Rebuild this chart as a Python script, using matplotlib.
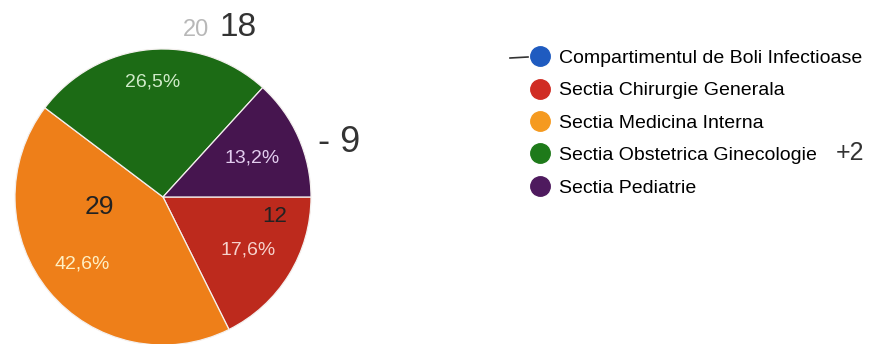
import matplotlib.pyplot as plt
import numpy as np
from matplotlib.lines import Line2D

# Datos
categorias = [
    "Compartimentul de Boli Infectioase",
    "Sectia Chirurgie Generala",
    "Sectia Medicina Interna",
    "Sectia Obstetrica Ginecologie",
    "Sectia Pediatrie",
]
valores = [0, 12, 29, 18, 9]
etiquetas = ["", "17,6%", "42,6%", "26,5%", "13,2%"]

colores_pie = ["#2a5fc4", "#bd2a1d", "#ee7f19", "#1c6b15", "#46154f"]
colores_leyenda = ["#1f5bc0", "#d02c23", "#f59a20", "#1e7a1a", "#4e1a5e"]
colores_texto = ["#ffffff", "#f6d2cc", "#fff0c4", "#cfeac8", "#e2cdee"]

fig = plt.figure(figsize=(8.75, 3.44), dpi=100)
plt.rcParams["font.family"] = ["Liberation Sans", "DejaVu Sans"]

ax = fig.add_axes([15 / 875, -1 / 344, 296 / 875, 296 / 344])

wedges, _ = ax.pie(
    valores,
    colors=colores_pie,
    startangle=0,
    counterclock=False,
    radius=1,
    wedgeprops={"edgecolor": "#f4f0ee", "linewidth": 0.9},
)
ax.set_xlim(-1, 1)
ax.set_ylim(-1, 1)
ax.set_aspect("equal")
ax.axis("off")

# Etiquetas de porcentaje
total = sum(valores)
angulo = 0.0
distancias = [0.7, 0.68, 0.71, 0.78, 0.66]
for v, et, ct, d in zip(valores, etiquetas, colores_texto, distancias):
    theta = angulo - 360 * v / total / 2
    angulo -= 360 * v / total
    if v == 0:
        continue
    x = d * np.cos(np.radians(theta))
    y = d * np.sin(np.radians(theta))
    ax.text(x, y, et, ha="center", va="center", fontsize=14, color=ct)

# Leyenda
handles = [
    Line2D([0], [0], marker="o", linestyle="", markersize=14,
           markerfacecolor=c, markeredgecolor=c)
    for c in colores_leyenda
]
fig.legend(
    handles,
    categorias,
    loc="upper left",
    bbox_to_anchor=(513 / 875, 1 - 32 / 344),
    frameon=False,
    fontsize=14,
    handlelength=1.0,
    handletextpad=0.45,
    labelspacing=0.76,
)

# Anotaciones a mano
fig.text(183 / 875, 1 - 30 / 344, "20", fontsize=17, color="#b8b8b8", va="center")
fig.text(219 / 875, 1 - 27 / 344, "18", fontsize=24, color="#333333", va="center")
fig.text(318 / 875, 1 - 142 / 344, "- 9", fontsize=26, color="#333333", va="center")
fig.text(85 / 875, 1 - 207 / 344, "29", fontsize=19, color="#222222", va="center")
fig.text(262 / 875, 1 - 217 / 344, "12", fontsize=16, color="#222222", va="center")
fig.text(836 / 875, 1 - 153 / 344, "+2", fontsize=18, color="#333333", va="center")
fig.add_artist(Line2D([510 / 875, 528 / 875], [1 - 58 / 344, 1 - 57 / 344],
                      color="#333333", linewidth=1.2))

fig.savefig("out.png", dpi=100, facecolor="white")
